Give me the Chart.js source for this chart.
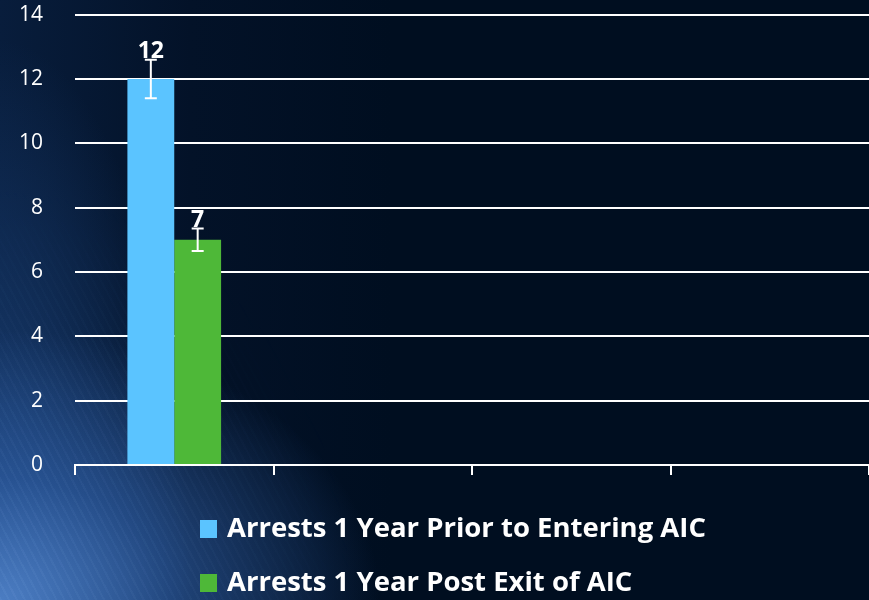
<!DOCTYPE html>
<html>
<head>
<meta charset="utf-8">
<script src="https://cdn.jsdelivr.net/npm/chart.js@4"></script>
<style>
  html, body { margin: 0; padding: 0; }
  body {
    width: 869px; height: 600px; overflow: hidden; position: relative;
    background:
      radial-gradient(ellipse 380px 270px at 0% 100%, rgba(78,128,198,0.95) 0%, rgba(48,95,165,0.65) 45%, rgba(10,30,70,0) 100%),
      radial-gradient(ellipse 190px 560px at 0% 100%, rgba(35,80,145,0.75) 0%, rgba(10,30,70,0) 100%),
      linear-gradient(90deg, #081d3c 0%, #031228 22%, #000e20 45%, #000e20 100%);
  }
  .streaks {
    position: absolute; left: 0; top: 0; width: 869px; height: 600px;
    background: repeating-linear-gradient(62deg, rgba(160,200,255,0.07) 0px, rgba(160,200,255,0.07) 2px, rgba(0,0,0,0) 2px, rgba(0,0,0,0) 7px);
    -webkit-mask-image: radial-gradient(ellipse 360px 420px at 0% 100%, #000 0%, rgba(0,0,0,0) 100%);
    mask-image: radial-gradient(ellipse 360px 420px at 0% 100%, #000 0%, rgba(0,0,0,0) 100%);
  }
  #arrestChart { position: absolute; left: 0; top: 0; }
</style>
</head>
<body>
<div class="streaks"></div>
<canvas id="arrestChart" width="869" height="600"></canvas>
<script>
var categories = ["1", "2", "3", "4"];
var seriesNames = ["Arrests 1 Year Prior to Entering AIC", "Arrests 1 Year Post Exit of AIC"];
var priorValues = [12, null, null, null];
var postValues = [7, null, null, null];
var priorErrors = [0.6, null, null, null];
var postErrors = [0.35, null, null, null];
var yTicks = [0, 2, 4, 6, 8, 10, 12, 14];

var barColors = ["#5bc4ff", "#4eb838"];
var fontName = "'Open Sans', Lato, sans-serif";

// error bars + value labels on top
var errorBarPlugin = {
  id: "errorBars",
  afterDatasetsDraw: function(chart) {
    var ctx = chart.ctx;
    var yScale = chart.scales.y;
    var errs = [priorErrors, postErrors];
    chart.data.datasets.forEach(function(ds, di) {
      var meta = chart.getDatasetMeta(di);
      meta.data.forEach(function(bar, i) {
        var v = ds.data[i];
        if (v == null) return;
        var e = errs[di][i] || 0;
        var top = yScale.getPixelForValue(v + e);
        var bot = yScale.getPixelForValue(v - e);
        ctx.save();
        ctx.strokeStyle = "#ffffff";
        ctx.lineWidth = 2;
        ctx.beginPath();
        ctx.moveTo(bar.x, top); ctx.lineTo(bar.x, bot);
        ctx.moveTo(bar.x - 6, top); ctx.lineTo(bar.x + 6, top);
        ctx.moveTo(bar.x - 6, bot); ctx.lineTo(bar.x + 6, bot);
        ctx.stroke();
        ctx.fillStyle = "#ffffff";
        ctx.font = "bold 23px " + fontName;
        ctx.textAlign = "center";
        ctx.textBaseline = "bottom";
        ctx.fillText(String(v), bar.x, top + 3);
        ctx.restore();
      });
    });
  }
};

// legend drawn as a left aligned list under the axis
var listLegend = {
  id: "listLegend",
  afterDraw: function(chart) {
    var ctx = chart.ctx;
    var y0 = chart.chartArea.bottom + 64;
    ctx.save();
    ctx.font = "bold 27.5px " + fontName;
    ctx.textBaseline = "middle";
    ctx.textAlign = "left";
    chart.data.datasets.forEach(function(ds, i) {
      var y = y0 + i * 54;
      ctx.fillStyle = ds.backgroundColor;
      ctx.fillRect(200, y - 9, 17, 18);
      ctx.fillStyle = "#ffffff";
      ctx.fillText(ds.label, 227, y);
    });
    ctx.restore();
  }
};

var ctx = document.getElementById("arrestChart");
var myChart = new Chart(ctx, {
  type: "bar",
  data: {
    labels: categories,
    datasets: [
      { label: seriesNames[0], data: priorValues, backgroundColor: barColors[0] },
      { label: seriesNames[1], data: postValues, backgroundColor: barColors[1] }
    ]
  },
  options: {
    responsive: false,
    animation: false,
    devicePixelRatio: 1,
    categoryPercentage: 0.472,
    barPercentage: 1,
    layout: { padding: 0 },
    plugins: {
      legend: { display: false },
      tooltip: { enabled: false }
    },
    scales: {
      x: {
        offset: true,
        grid: { display: true, offset: true, drawOnChartArea: false, drawTicks: true, tickLength: 10, color: "#ffffff", lineWidth: 2 },
        border: { display: true, color: "#ffffff", width: 2 },
        ticks: { display: false },
        afterFit: function(scale) { scale.height = 135; }
      },
      y: {
        min: 0,
        max: 14,
        afterBuildTicks: function(scale) { scale.ticks = yTicks.map(function(v) { return { value: v }; }); },
        // invisible tick marks make the gap between labels and plot
        grid: { color: "#ffffff", lineWidth: 2, drawTicks: true, tickLength: 30, tickColor: "rgba(0,0,0,0)" },
        border: { display: false },
        ticks: { color: "#ffffff", font: { family: fontName, size: 21 }, padding: 2 },
        afterFit: function(scale) { scale.width = 75; }
      }
    }
  },
  plugins: [errorBarPlugin, listLegend]
});
</script>
</body>
</html>
